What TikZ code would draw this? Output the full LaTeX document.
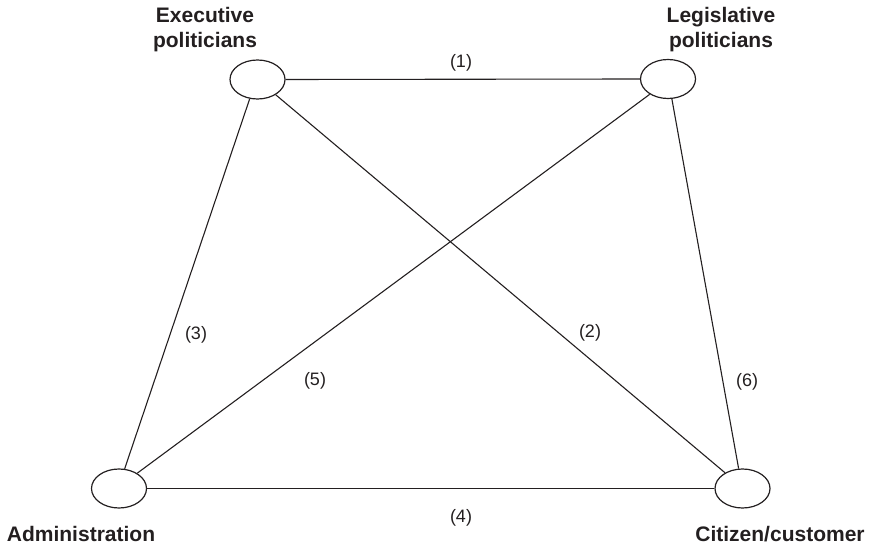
\documentclass[tikz,border=0pt]{standalone}
\usepackage{fontspec}
\setmainfont{Liberation Sans}
\usetikzlibrary{shapes.geometric}
\definecolor{ink}{HTML}{231F20}
\begin{document}
\begin{tikzpicture}[x=1pt,y=-1pt,
  actor/.style={ellipse,draw=ink,line width=1.2pt,minimum width=55pt,minimum height=39pt,inner sep=0pt},
  link/.style={draw=ink,line width=1.1pt},
  role/.style={font=\fontsize{21}{24.5}\selectfont\bfseries,text=ink,align=center,inner sep=0pt,anchor=base},
  tag/.style={font=\fontsize{18}{20}\selectfont,text=ink,inner sep=0pt}]
  \useasboundingbox (0,0) rectangle (879,545);

  % actors
  \node[actor] (exe) at (257.5,79.5) {};
  \node[actor] (leg) at (668,79) {};
  \node[actor] (adm) at (119,488.5) {};
  \node[actor] (cit) at (742.5,488.5) {};

  % actor names (base anchor sits on the last line)
  \node[role] (exeT) at (205,47.5) {Executive\\politicians};
  \node[role] (legT) at (721,47.5) {Legislative\\politicians};
  \node[role] (admT) at (81,541) {Administration};
  \node[role] (citT) at (780,541) {Citizen/customer};

  % relations
  \draw[link] (exe.east) -- (leg.west);
  \draw[link] (exe.-40) -- (cit.138);
  \draw[link] (exe.-112) -- (adm.74);
  \draw[link] (adm.east) -- (cit.west);
  \draw[link] (leg.-140) -- (adm.40);
  \draw[link] (leg.-79) -- (cit.101);

  % relation numbers
  \node[tag] (n1) at (461,63) {(1)};
  \node[tag] (n2) at (590,333) {(2)};
  \node[tag] (n3) at (196,335) {(3)};
  \node[tag] (n4) at (461,518) {(4)};
  \node[tag] (n5) at (315,381) {(5)};
  \node[tag] (n6) at (747,382) {(6)};
\end{tikzpicture}
\end{document}
